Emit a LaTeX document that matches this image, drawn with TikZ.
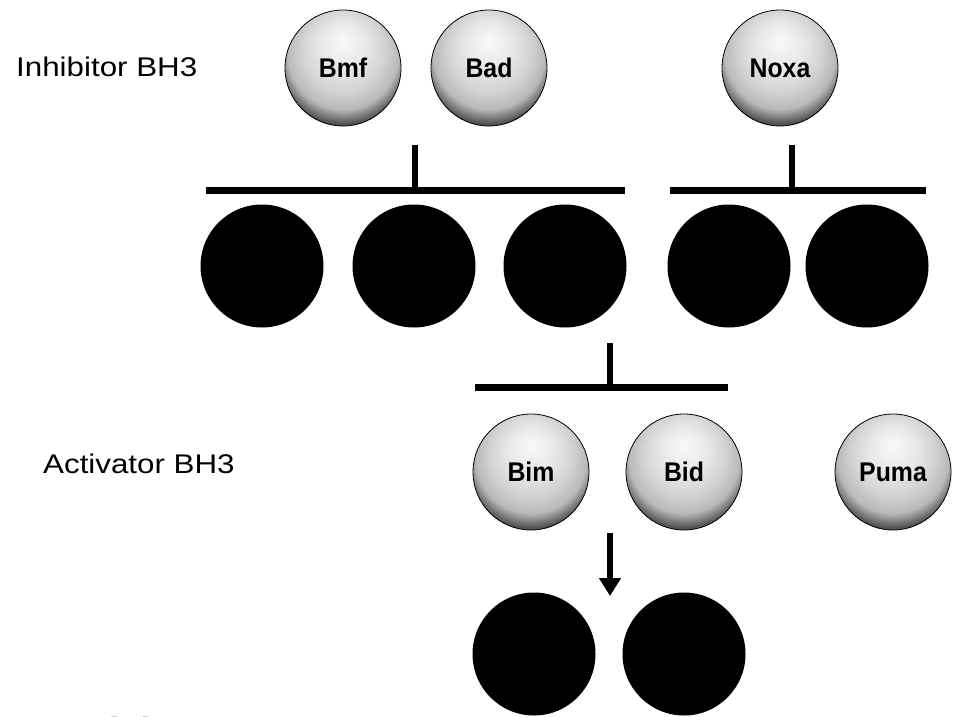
\documentclass[tikz,border=0pt]{standalone}
\usepackage{fontspec}
\setmainfont{Liberation Sans}
\newfontfamily\sidefont[FakeStretch=1.16]{Liberation Sans}
\newfontfamily\ballfont[FakeStretch=0.92]{Liberation Sans}
\usetikzlibrary{arrows.meta}

% light protein sphere: bright top, darkening towards the lower rim
\pgfdeclareradialshading{lightsphere}{\pgfpoint{0bp}{12bp}}{%
  color(0bp)=(gray!5);
  color(10bp)=(gray!18);
  color(18bp)=(gray!35);
  color(24bp)=(gray!55);
  color(29bp)=(gray!65!black);
  color(34bp)=(black!92);
  color(50bp)=(black)}

\tikzset{
  bh3/.style={circle, minimum size=116pt, inner sep=0pt, shade, shading=lightsphere,
    draw=black, line width=0.8pt, text=black,
    font=\ballfont\bfseries\fontsize{27}{27}\selectfont},
  antiapo/.style={circle, minimum size=123pt, inner sep=0pt, fill=black},
  bar/.style={line width=7pt, black},
  tick/.style={line width=6pt, black},
  sidelabel/.style={anchor=base west, inner sep=0pt, text=black,
    font=\sidefont\fontsize{27}{27}\selectfont},
  arr/.style={line width=6pt, black, -{Triangle[width=21pt,length=18pt]}}
}

\begin{document}
\begin{tikzpicture}[x=1pt, y=-1pt]
  \path[use as bounding box, clip] (0,0) rectangle (956,717);

  % row labels
  \node[sidelabel] (inhlabel) at (16,77) {Inhibitor BH3};
  \node[sidelabel] (actlabel) at (43,473) {Activator BH3};
  \node[anchor=base west, inner sep=0pt,
        font=\sidefont\bfseries\fontsize{32}{32}\selectfont] (model) at (43,740) {Model 2};

  % inhibitor BH3-only proteins
  \node[bh3] (bmf)  at (343,68) {Bmf};
  \node[bh3] (bad)  at (489,68) {Bad};
  \node[bh3] (noxa) at (780,68) {Noxa};

  % inhibition bars onto the anti-apoptotic proteins
  \coordinate (b1w) at (206,190);  \coordinate (b1e) at (625,190);
  \coordinate (b1t) at (415,145);  \coordinate (b1j) at (415,190);
  \coordinate (b2w) at (670,190);  \coordinate (b2e) at (926,190);
  \coordinate (b2t) at (792,145);  \coordinate (b2j) at (792,190);
  \draw[bar] (b1w) -- (b1e);
  \draw[tick] (b1t) -- (b1j);
  \draw[bar] (b2w) -- (b2e);
  \draw[tick] (b2t) -- (b2j);

  % anti-apoptotic proteins
  \node[antiapo] (a1) at (262,266) {};
  \node[antiapo] (a2) at (414,266) {};
  \node[antiapo] (a3) at (565,266) {};
  \node[antiapo] (a4) at (729,266) {};
  \node[antiapo] (a5) at (867,266) {};

  % inhibition bar onto the activators
  \coordinate (b3w) at (475,387);  \coordinate (b3e) at (728,387);
  \coordinate (b3t) at (610,343);  \coordinate (b3j) at (610,387);
  \draw[bar] (b3w) -- (b3e);
  \draw[tick] (b3t) -- (b3j);

  % activator BH3-only proteins
  \node[bh3] (bim)  at (531,472) {Bim};
  \node[bh3] (bid)  at (684,472) {Bid};
  \node[bh3] (puma) at (893,472) {Puma};

  % activation of the effectors
  \coordinate (arrtop) at (610,533);
  \coordinate (arrtip) at (610,596);
  \draw[arr] (arrtop) -- (arrtip);

  % effector proteins
  \node[antiapo] (e1) at (534,654) {};
  \node[antiapo] (e2) at (684,654) {};
\end{tikzpicture}
\end{document}
